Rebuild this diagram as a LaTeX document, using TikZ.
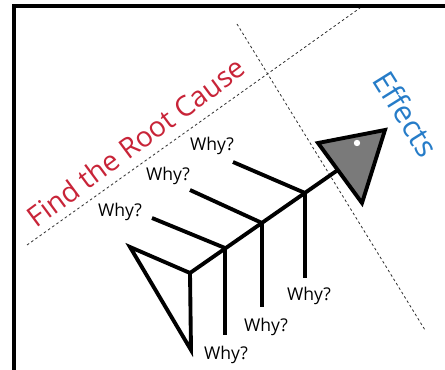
\documentclass[tikz,border=0pt]{standalone}
\usepackage{fontspec}
\setmainfont{Open Sans}
\usetikzlibrary{positioning,calc}
\definecolor{CauseRed}{RGB}{200,36,56}
\definecolor{EffectBlue}{RGB}{38,124,200}
\definecolor{HeadGray}{RGB}{122,122,122}
\tikzset{
  bone/.style={line width=3.3pt,draw=black,line join=miter},
  frameline/.style={line width=3.2pt,draw=black},
  guide/.style={draw=black!80,line width=0.7pt,dash pattern=on 2.2pt off 2.2pt},
  why/.style={font=\fontsize{15}{15}\selectfont,inner sep=0pt},
  causetext/.style={font=\fontsize{24}{24}\selectfont,text=CauseRed,inner sep=0pt},
  effecttext/.style={font=\fontsize{26}{26}\selectfont,text=EffectBlue,inner sep=0pt}
}

\begin{document}
\begin{tikzpicture}[x=0.03cm,y=-0.03cm]
  \useasboundingbox (0,0) rectangle (445,370);
  % frame
  \draw[frameline] (14,372) -- (14,6) -- (447,6);
  % guide lines
  \coordinate (g1a) at (27,245);
  \coordinate (g1b) at (360,8);
  \coordinate (g2a) at (237,24);
  \coordinate (g2b) at (425,330);
  \draw[guide] (g1a) -- (g1b);
  \draw[guide] (g2a) -- (g2b);
  % joints on the spine
  \coordinate (tail) at (190,273);
  \coordinate (j1) at (225,248);
  \coordinate (j2) at (262,223);
  \coordinate (j3) at (305,193);
  \coordinate (neck) at (345,165);
  % bone ends
  \coordinate (u1) at (152,218);
  \coordinate (u2) at (190,190);
  \coordinate (u3) at (233,162);
  \coordinate (d1) at (225,335);
  \coordinate (d2) at (262,307);
  \coordinate (d3) at (305,278);
  % tail
  \coordinate (tailtop) at (130,247);
  \coordinate (tailbot) at (191,350);
  \draw[bone] (tailtop) -- (tail) -- (tailbot) -- cycle;
  % spine and bones
  \draw[bone] (tail) -- (neck);
  \draw[bone] (j1) -- (u1);
  \draw[bone] (j2) -- (u2);
  \draw[bone] (j3) -- (u3);
  \draw[bone] (j1) -- (d1);
  \draw[bone] (j2) -- (d2);
  \draw[bone] (j3) -- (d3);
  % head
  \coordinate (h1) at (318,143);
  \coordinate (h2) at (385,130);
  \coordinate (h3) at (362,203);
  \draw[bone,fill=HeadGray] (h1) -- (h2) -- (h3) -- cycle;
  \fill[white] (357,143) circle (3.2);
  % labels
  \node[why] (w1) at (120,212) {Why?};
  \node[why] (w2) at (168,176) {Why?};
  \node[why] (w3) at (212,146) {Why?};
  \node[why] (w4) at (226,355) {Why?};
  \node[why] (w5) at (266,327) {Why?};
  \node[why] (w6) at (309,296) {Why?};
  \node[causetext,rotate=36.5] (cause) at (136,142) {Find the Root Cause};
  \node[effecttext,rotate=-58] (effects) at (406,114) {Effects};
\end{tikzpicture}
\end{document}
